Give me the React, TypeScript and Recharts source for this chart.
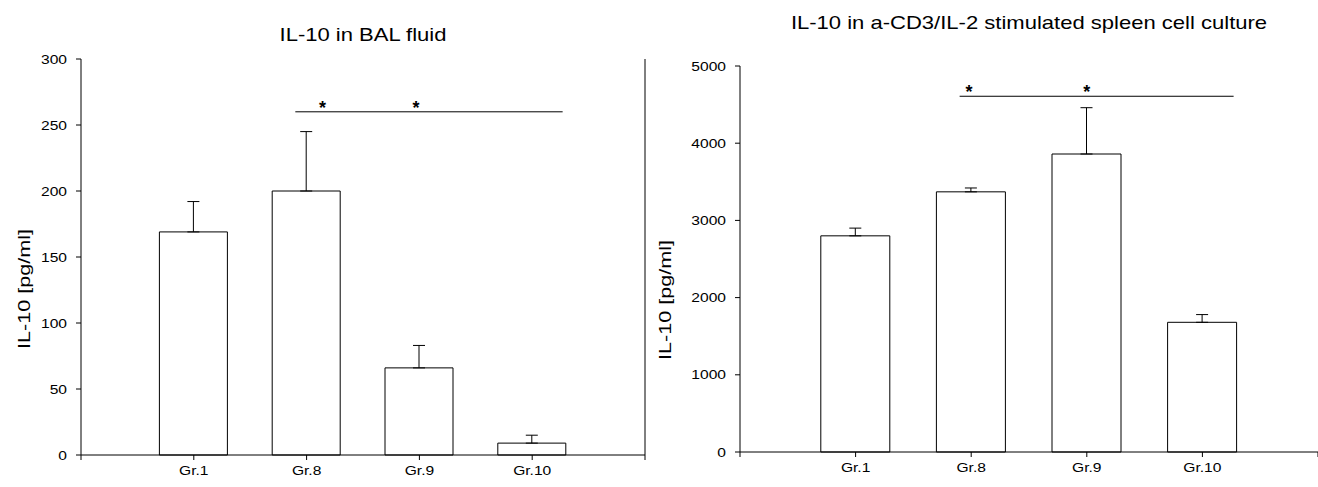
import React from "react";
import {
  ComposedChart,
  Bar,
  XAxis,
  YAxis,
  ErrorBar,
  ReferenceLine,
  ReferenceDot,
} from "recharts";

// categories sit at 1..4 on a 0..5 axis
const groups = ["Gr.1", "Gr.8", "Gr.9", "Gr.10"];
const groupPos = [1, 2, 3, 4];

const balValues = [169, 200, 66, 9];
const balErrors = [23, 45, 17, 6];

const spleenValues = [2800, 3370, 3860, 1680];
const spleenErrors = [100, 50, 600, 100];

const balTicks = [0, 50, 100, 150, 200, 250, 300];
const spleenTicks = [0, 1000, 2000, 3000, 4000, 5000];

// significance line [x1, x2, y] and star positions
const balSigLine = [1.9, 4.27, 260];
const balStars = [
  { x: 2.14, y: 266 },
  { x: 2.97, y: 266 },
];
const spleenSigLine = [1.9, 4.27, 4608];
const spleenStars = [
  { x: 1.98, y: 4715 },
  { x: 3.0, y: 4715 },
];

const FONT = "'Liberation Sans', Arial, sans-serif";
const SX = 1.2; // the source figure is a bit wider than tall

const buildRows = (values: number[], errors: number[]) =>
  groups.map((g, i) => ({
    name: g,
    x: groupPos[i],
    value: values[i],
    err: [0, errors[i]],
  }));

const XTick = (props: any) => {
  const i = groupPos.indexOf(props.payload.value);
  if (i < 0) return null;
  return (
    <g transform={`translate(${props.x},${props.y}) scale(${SX},1)`}>
      <text
        x={0}
        y={0}
        dy="0.71em"
        textAnchor="middle"
        fontFamily={FONT}
        fontSize={13}
        fill="#000"
      >
        {groups[i]}
      </text>
    </g>
  );
};

const YTick = (props: any) => (
  <g transform={`translate(${props.x},${props.y}) scale(${SX},1)`}>
    <text
      x={0}
      y={0}
      dy="0.355em"
      textAnchor="end"
      fontFamily={FONT}
      fontSize={13}
      fill="#000"
    >
      {props.payload.value}
    </text>
  </g>
);

const Star = (props: any) => (
  <text
    x={props.cx}
    y={props.cy}
    textAnchor="middle"
    dominantBaseline="central"
    fontFamily={FONT}
    fontSize={18}
    fontWeight="bold"
    fill="#000"
    dy={4}
  >
    *
  </text>
);

type PanelProps = {
  title: string;
  titleY: number;
  width: number;
  margin: { top: number; right: number; left: number; bottom: number };
  values: number[];
  errors: number[];
  max: number;
  ticks: number[];
  yWidth: number;
  sig: number[];
  stars: { x: number; y: number }[];
  barSize: number;
  labelX: number;
  labelY: number;
  frame?: boolean;
};

const Panel = (p: PanelProps) => {
  const rows = buildRows(p.values, p.errors);
  const plotLeft = p.margin.left + p.yWidth;
  const titleX = (plotLeft + p.width - p.margin.right) / 2;
  return (
    <div style={{ position: "relative", width: p.width, height: 487 }}>
      <ComposedChart width={p.width} height={487} data={rows} margin={p.margin}>
        <XAxis
          dataKey="x"
          type="number"
          domain={[0, 5]}
          ticks={[0, 1, 2, 3, 4, 5]}
          tickSize={5}
          tickMargin={6}
          stroke="#000"
          tick={<XTick />}
          allowDataOverflow
        />
        <YAxis
          type="number"
          domain={[0, p.max]}
          ticks={p.ticks}
          width={p.yWidth}
          tickSize={5}
          tickMargin={9}
          stroke="#000"
          tick={<YTick />}
        />
        {p.frame && <ReferenceLine x={5} stroke="#000" strokeWidth={1} />}
        <Bar
          dataKey="value"
          fill="#fff"
          stroke="#000"
          strokeWidth={1}
          barSize={p.barSize}
          isAnimationActive={false}
        >
          <ErrorBar
            dataKey="err"
            direction="y"
            width={6}
            stroke="#000"
            strokeWidth={1}
          />
        </Bar>
        <ReferenceLine
          segment={[
            { x: p.sig[0], y: p.sig[2] },
            { x: p.sig[1], y: p.sig[2] },
          ]}
          stroke="#000"
          strokeWidth={1}
          ifOverflow="visible"
        />
        {p.stars.map((s, i) => (
          <ReferenceDot
            key={i}
            x={s.x}
            y={s.y}
            r={0}
            shape={Star}
            ifOverflow="visible"
          />
        ))}
      </ComposedChart>
      <svg
        width={p.width}
        height={487}
        style={{
          position: "absolute",
          left: 0,
          top: 0,
          pointerEvents: "none",
          overflow: "visible",
        }}
      >
        <g transform={`translate(${titleX},${p.titleY}) scale(1.16,1)`}>
          <text
            x={0}
            y={0}
            textAnchor="middle"
            fontFamily={FONT}
            fontSize={19}
            fill="#000"
          >
            {p.title}
          </text>
        </g>
        <g
          transform={`translate(${p.labelX},${p.labelY}) rotate(-90) scale(1.35,1)`}
        >
          <text
            x={0}
            y={0}
            dy="0.35em"
            textAnchor="middle"
            fontFamily={FONT}
            fontSize={16}
            fill="#000"
          >
            IL-10 [pg/ml]
          </text>
        </g>
      </svg>
    </div>
  );
};

export default function App() {
  return (
    <div
      style={{
        position: "absolute",
        left: 0,
        top: 0,
        width: 1318,
        height: 487,
        background: "#fff",
        display: "flex",
      }}
    >
      <Panel
        title="IL-10 in BAL fluid"
        titleY={41}
        width={652}
        margin={{ top: 59, right: 7, left: 0, bottom: 2 }}
        values={balValues}
        errors={balErrors}
        max={300}
        ticks={balTicks}
        yWidth={81}
        sig={balSigLine}
        stars={balStars}
        barSize={68}
        labelX={24}
        labelY={289}
        frame
      />
      <Panel
        title="IL-10 in a-CD3/IL-2 stimulated spleen cell culture"
        titleY={29}
        width={666}
        margin={{ top: 66, right: 0, left: 0, bottom: 5 }}
        values={spleenValues}
        errors={spleenErrors}
        max={5000}
        ticks={spleenTicks}
        yWidth={88}
        sig={spleenSigLine}
        stars={spleenStars}
        barSize={69}
        labelX={13}
        labelY={300}
      />
    </div>
  );
}
